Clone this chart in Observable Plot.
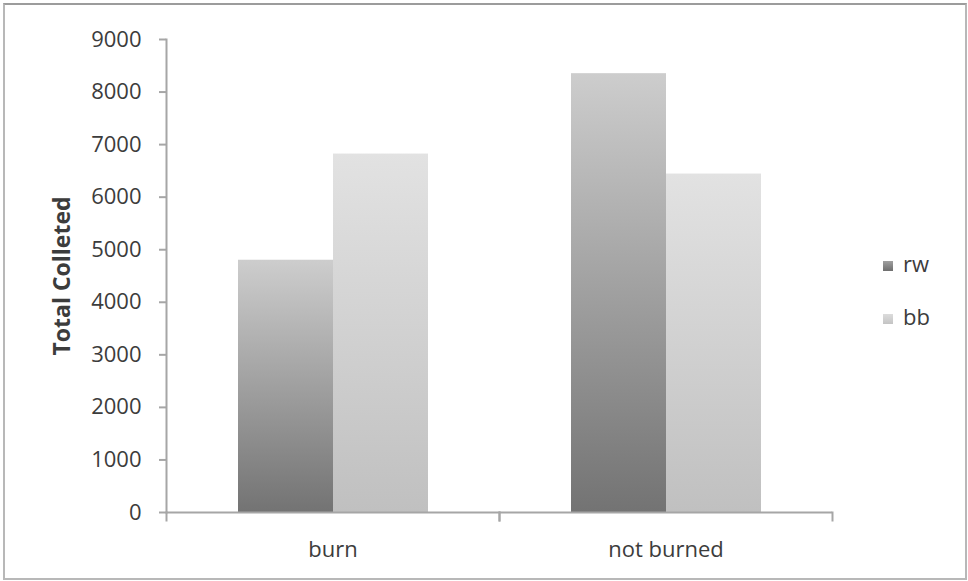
<!DOCTYPE html>
<html>
<head>
<meta charset="utf-8">
<script src="https://cdn.jsdelivr.net/npm/d3@7"></script>
<script src="https://cdn.jsdelivr.net/npm/@observablehq/plot@0.6"></script>
<style>
  html, body { margin: 0; padding: 0; background: #fff; }
  #wrap { position: relative; width: 968px; height: 581px; overflow: hidden; }
  #border { position: absolute; left: 3px; top: 3px; width: 964px; height: 577px; box-sizing: border-box;
            border: 2px solid #b8b8b8; border-top-color: #9c9c9c; pointer-events: none; }
  #legend { position: absolute; left: 883px; top: 250px; font-family: "Open Sans", sans-serif; font-size: 22px; color: #3c3c3c; }
  .item { position: absolute; left: 0; white-space: nowrap; line-height: 1; }
  .sw { position: absolute; left: 0; width: 10px; height: 10px; }
  .lbl { position: absolute; left: 20px; }
  g[aria-label="y-axis label"] { font-weight: 700; font-size: 23px; }
</style>
</head>
<body>
<svg width="0" height="0" style="position:absolute">
  <defs>
    <linearGradient id="gRW" x1="0" y1="0" x2="0" y2="1">
      <stop offset="0" stop-color="#cdcdcd"/>
      <stop offset="1" stop-color="#737373"/>
    </linearGradient>
    <linearGradient id="gBB" x1="0" y1="0" x2="0" y2="1">
      <stop offset="0" stop-color="#e2e2e2"/>
      <stop offset="1" stop-color="#c0c0c0"/>
    </linearGradient>
  </defs>
</svg>
<div id="wrap">
  <div id="chart"></div>
  <div id="legend"></div>
  <div id="border"></div>
</div>
<script>
const categories = ["burn", "not burned"];
const series = ["rw", "bb"];
const rwValues = [4800, 8350];
const bbValues = [6820, 6440];
const yTicks = [0, 1000, 2000, 3000, 4000, 5000, 6000, 7000, 8000, 9000];
const yLabel = "Total Colleted";
const fills = ["url(#gRW)", "url(#gBB)"];

const data = [];
categories.forEach((c, i) => {
  data.push({category: c, series: "rw", value: rwValues[i]});
  data.push({category: c, series: "bb", value: bbValues[i]});
});

const axisGray = "#a6a6a6";

const chart = Plot.plot({
  width: 968,
  height: 581,
  marginLeft: 165,
  marginRight: 136,
  marginTop: 39,
  marginBottom: 69,
  style: {fontFamily: "'Open Sans', sans-serif", fontSize: "22px", color: "#3c3c3c", background: "transparent"},
  fx: {domain: categories, padding: 0, label: null},
  x: {domain: series, paddingInner: 0, paddingOuter: 0.746, axis: null},
  y: {domain: [0, 9000], label: null},
  color: {domain: series, range: fills},
  marks: [
    Plot.barY(data, {fx: "category", x: "series", y: "value", fill: "series"}),
    Plot.ruleY([0], {stroke: axisGray, strokeWidth: 2}),
    Plot.frame({anchor: "left", facetAnchor: "left", stroke: axisGray, strokeWidth: 2}),
    Plot.frame({anchor: "left", stroke: axisGray, strokeWidth: 2, insetTop: 473, insetBottom: -8}),
    Plot.frame({anchor: "right", stroke: axisGray, strokeWidth: 2, insetTop: 473, insetBottom: -8}),
    Plot.axisY({ticks: yTicks, tickFormat: d3.format("d"), tickSize: 7, tickPadding: 18,
                stroke: axisGray, strokeWidth: 2, strokeOpacity: 1,
                label: yLabel, labelArrow: "none", labelAnchor: "center", labelOffset: 113}),
    Plot.axisFx({anchor: "bottom", tickSize: 0, tickPadding: 29, label: null})
  ]
});
document.getElementById("chart").appendChild(chart);

const legend = document.getElementById("legend");
const legendTops = [10, 63];
const swGrad = ["linear-gradient(#a0a0a0, #6e6e6e)", "linear-gradient(#dcdcdc, #c4c4c4)"];
series.forEach((s, i) => {
  const item = document.createElement("div");
  item.className = "item";
  item.style.top = legendTops[i] + "px";
  const sw = document.createElement("div");
  sw.className = "sw";
  sw.style.background = swGrad[i];
  sw.style.top = "1px";
  const lbl = document.createElement("div");
  lbl.className = "lbl";
  lbl.style.top = "-8px";
  lbl.textContent = s;
  item.appendChild(sw);
  item.appendChild(lbl);
  legend.appendChild(item);
});
</script>
</body>
</html>
